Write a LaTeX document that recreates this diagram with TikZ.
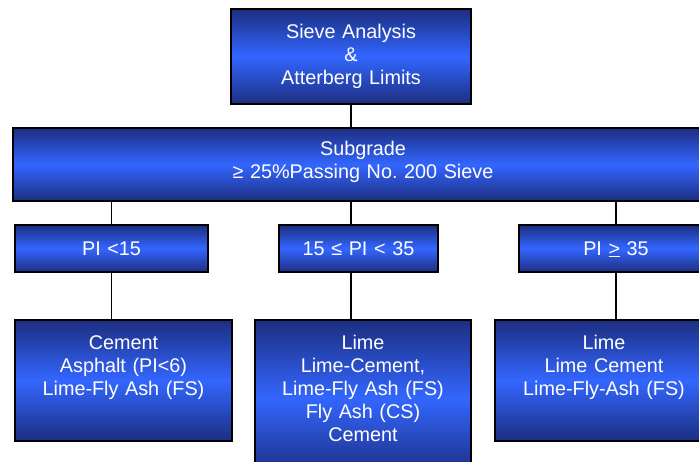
\documentclass[tikz,border=0pt]{standalone}
\usepackage{fontspec}
\setmainfont{Liberation Sans}

\definecolor{boxnavy}{RGB}{28,46,128}
\definecolor{boxblue}{RGB}{51,102,255}

\tikzstyle{block} = [draw=black, line width=2pt, top color=boxnavy, bottom color=boxnavy,
	middle color=boxblue, text=white, align=center, inner sep=0pt, anchor=north west,
	font=\fontsize{19.8}{23}\selectfont]
\tikzstyle{link} = [draw=black, line width=1.3pt]

\begin{document}
\begin{tikzpicture}[x=1pt,y=-1pt]
\useasboundingbox (0,0) rectangle (699,461);
\fill[white] (0,0) rectangle (699,461);
\clip (0,0) rectangle (699,461);

\node [block, text width=240pt, text height=29pt, text depth=66pt] (sieve) at (230,8)
	{Sieve Analysis\\ \&\\ Atterberg Limits};
\node [block, text width=700pt, text height=27pt, text depth=46pt] (subgrade) at (12,127)
	{Subgrade\\ ≥ 25\%Passing No.\ 200 Sieve};

\node [block, text width=193pt, text height=30pt, text depth=17pt] (lowpi) at (14,224) {PI <15};
\node [block, text width=159pt, text height=30pt, text depth=17pt] (midpi) at (278,224) {15 ≤ PI < 35};
\node [block, text width=194pt, text height=30pt, text depth=17pt] (highpi) at (518,224) {PI \underline{>} 35};

\node [block, text width=217pt, text height=29pt, text depth=92pt] (lowstab) at (14,319)
	{Cement\\ Asphalt (PI<6)\\ Lime-Fly Ash (FS)};
\node [block, text width=216pt, text height=29pt, text depth=127pt] (midstab) at (254,319)
	{Lime\\ Lime-Cement,\\ Lime-Fly Ash (FS)\\ Fly Ash (CS)\\ Cement};
\node [block, text width=218pt, text height=29pt, text depth=92pt] (highstab) at (494,319)
	{Lime\\ Lime Cement\\ Lime-Fly-Ash (FS)};

\draw [link] (sieve.south) -- (subgrade.north -| sieve.south);
\draw [link] (subgrade.south -| lowpi.north) -- (lowpi.north);
\draw [link] (subgrade.south -| sieve.south) -- (midpi.north -| sieve.south);
\draw [link] (subgrade.south -| highpi.north) -- (highpi.north);
\draw [link] (lowpi.south) -- (lowpi.south |- lowstab.north);
\draw [link] (midpi.south -| sieve.south) -- (midstab.north -| sieve.south);
\draw [link] (highpi.south) -- (highpi.south |- highstab.north);
\end{tikzpicture}
\end{document}
